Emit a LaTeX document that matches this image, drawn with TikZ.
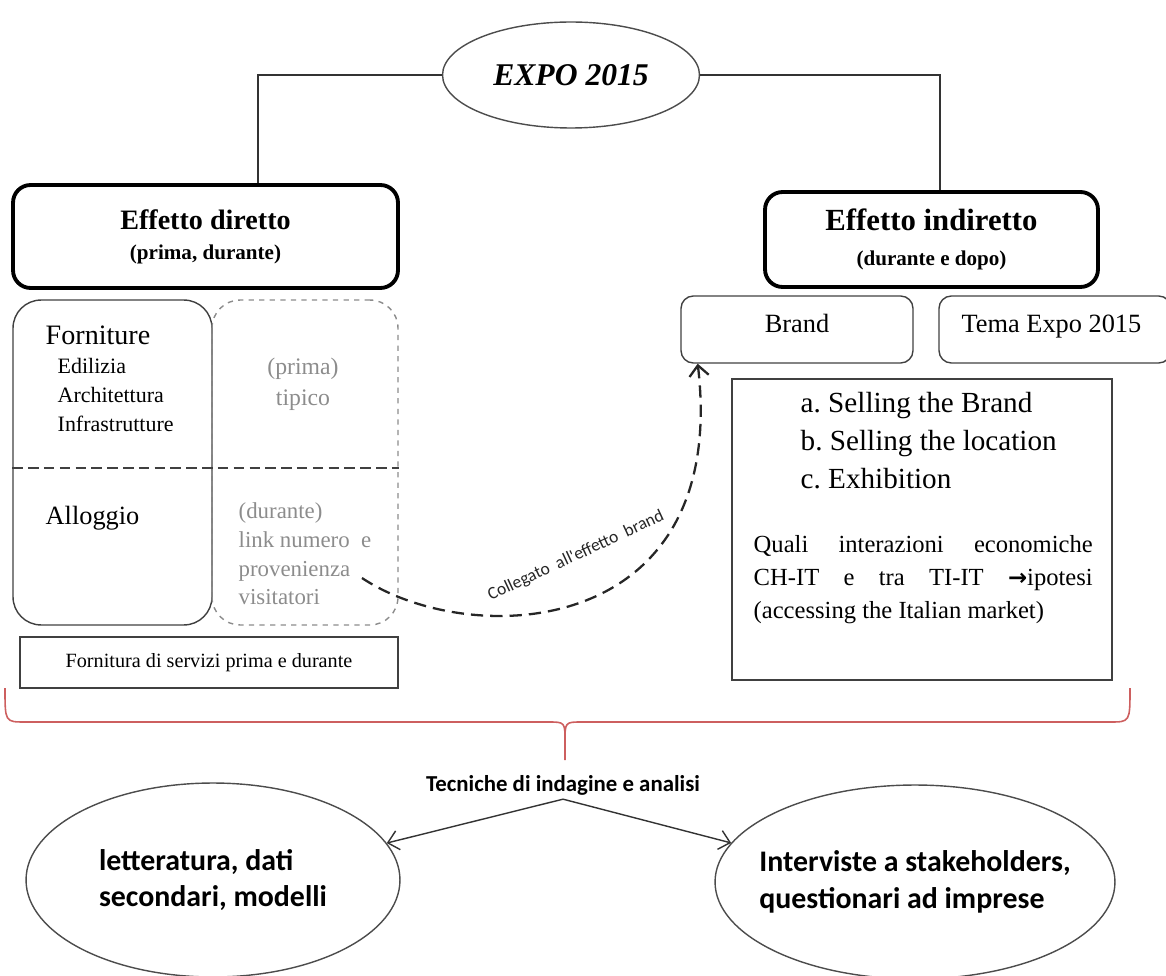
\documentclass[tikz,border=0pt]{standalone}
\usepackage{fontspec}
\setmainfont{Liberation Serif}
\newfontfamily\calibri{Carlito}
\newfontfamily\arrowfont{DejaVu Sans}
\usetikzlibrary{shapes.geometric,arrows.meta}

\definecolor{bracered}{RGB}{205,95,95}

\begin{document}
\begin{tikzpicture}[
    x = 0.02cm, y = -0.02cm,
    line width = 0.8pt,
    >={Straight Barb[length=6pt,width=11pt]},
    %
    mainbox/.style = {draw, rounded corners = 10pt,
      line width = 2.2pt, align = center, inner sep = 0pt},
    subbox/.style = {draw = black!75, rounded corners = 7pt,
      inner sep = 0pt},
    plainbox/.style = {draw = black!75, inner sep = 0pt},
    oval/.style = {ellipse, draw = black!70, inner sep = 0pt},
    %
    greytext/.style = {text = black!45, inner sep = 0pt, align = left},
    bluetext/.style = {font = \calibri\bfseries\fontsize{17}{21}\selectfont,
      align = left},
    ]

    \useasboundingbox (0, 0) rectangle (1166, 976);

    % top
    \node at (571, 75)
    [oval, minimum width = 5.14cm, minimum height = 2.12cm,
      font = \fontsize{18}{22}\selectfont\bfseries\itshape,
      name = expo] {EXPO 2015};

    \node at (205.5, 236.5)
    [mainbox, minimum width = 7.7cm, minimum height = 2.06cm,
      font = \bfseries, name = direct]
    {\fontsize{16}{19}\selectfont Effetto diretto\\[5pt]
      \fontsize{12}{19}\selectfont (prima, durante)};

    \node at (931.5, 239.5)
    [mainbox, minimum width = 6.66cm, minimum height = 1.9cm,
      font = \bfseries, name = indirect]
    {\fontsize{17.5}{21.5}\selectfont Effetto indiretto\\[8pt]
      \fontsize{12}{21.5}\selectfont (durante e dopo)};

    \draw [black!80] (expo.west) -| (258, 0 |- direct.north);
    \draw [black!80] (expo.east) -| (940, 0 |- indirect.north);

    % effetto diretto
    \node at (112.5, 462.5)
    [subbox, rounded corners = 16pt, minimum width = 3.98cm,
      minimum height = 6.5cm, name = forn] {};
    \node at (305, 462.5)
    [subbox, draw = black!45, dashed, rounded corners = 16pt,
      minimum width = 3.72cm, minimum height = 6.5cm, name = tip] {};

    \draw [black!75, dash pattern = on 6pt off 3pt]
    (forn.west |- 0, 468) -- (tip.east |- 0, 468);

    \node at (45, 335) [anchor = west, inner sep = 0pt,
      font = \fontsize{16}{19}\selectfont, name = fornT] {Forniture};
    \node at (57, 358) [anchor = north west, inner sep = 0pt, align = left,
      font = \fontsize{12.5}{16.4}\selectfont, name = fornL]
    {Edilizia\\Architettura\\Infrastrutture};
    \node at (45, 518) [anchor = west, inner sep = 0pt,
      font = \fontsize{15}{19}\selectfont, name = allog] {Alloggio};

    \node at (303, 384) [greytext, align = center,
      font = \fontsize{13.5}{17.5}\selectfont, name = prima]
    {(prima)\\tipico};

    \begin{scope}
      \clip (212, 300) rectangle (398, 606);
      \node at (238, 502) [greytext, anchor = north west,
        font = \fontsize{13}{16.4}\selectfont, name = durante]
      {(durante)\\link numero \ e\\provenienza\\visitatori};
    \end{scope}

    \node at (209, 662.5)
    [plainbox, minimum width = 7.56cm, minimum height = 1.02cm,
      font = \fontsize{11.5}{14}\selectfont, name = fserv]
    {Fornitura di servizi prima e durante};

    % effetto indiretto
    \node at (797, 329.5)
    [subbox, minimum width = 4.64cm, minimum height = 1.34cm,
      font = \fontsize{15}{18}\selectfont, name = brand]
    {\raisebox{7pt}{Brand}};
    \node at (1055, 329.5)
    [subbox, minimum width = 4.64cm, minimum height = 1.34cm,
      font = \fontsize{15}{18}\selectfont, name = tema]
    {\raisebox{7pt}{Tema Expo 2015}\hspace*{4pt}};

    \node at (922, 529.5)
    [plainbox, minimum width = 7.6cm, minimum height = 6.02cm,
      name = sell] {};

    \node at (800, 392) [anchor = north west, inner sep = 0pt,
      align = left, font = \fontsize{16.6}{21.5}\selectfont\frenchspacing,
      name = sellL]
    {a. Selling the Brand\\b. Selling the location\\c. Exhibition};

    \node at (753, 535) [anchor = north west, inner sep = 0pt,
      align = left, font = \fontsize{14}{18.7}\selectfont,
      name = quali]
    {\makebox[193pt][s]{Quali interazioni economiche}\\
      \makebox[193pt][s]{CH-IT e tra TI-IT
        {\arrowfont\bfseries\fontsize{13}{18.7}\selectfont →}ipotesi}\\
      (accessing the Italian market)};

    \coordinate (linkstart) at (362, 578);

    \draw [->, dashed, line width = 1.3pt, black!85,
      dash pattern = on 7pt off 4pt]
    (linkstart) .. controls (470, 650) and (730, 640) .. (brand.199);

    \node at (576, 556) [rotate = 25, text = black!85, inner sep = 0pt,
      font = \calibri\fontsize{10}{12}\selectfont, name = linklab]
    {Collegato \ all'effetto \ brand};

    % brace
    \coordinate (braceL) at (5, 688);
    \coordinate (braceR) at (1130, 688);
    \coordinate (braceT) at (565, 760);
    \draw [bracered, line width = 0.9pt]
    (braceL) .. controls (5, 722) .. (25, 722) -- (548, 722)
    .. controls (565, 722) .. (565, 742) -- (braceT);
    \draw [bracered, line width = 0.9pt]
    (braceR) .. controls (1130, 722) .. (1110, 722) -- (582, 722)
    .. controls (565, 722) .. (565, 742);

    % tecniche
    \node at (563, 785)
    [font = \calibri\bfseries\fontsize{13}{16}\selectfont,
      inner sep = 2pt, name = tec] {Tecniche di indagine e analisi};

    \node at (213, 880)
    [oval, minimum width = 7.48cm, minimum height = 3.88cm,
      bluetext, name = lit]
    {letteratura, dati\\secondari, modelli};

    \node at (915, 882)
    [oval, inner xsep = -0.3cm, minimum width = 8cm,
      minimum height = 3.88cm, bluetext, name = intv]
    {Interviste a stakeholders,\\questionari ad imprese};

    \draw [<->, black!80] (lit.12) -- (tec.south) -- (intv.168);

  \end{tikzpicture}
\end{document}
